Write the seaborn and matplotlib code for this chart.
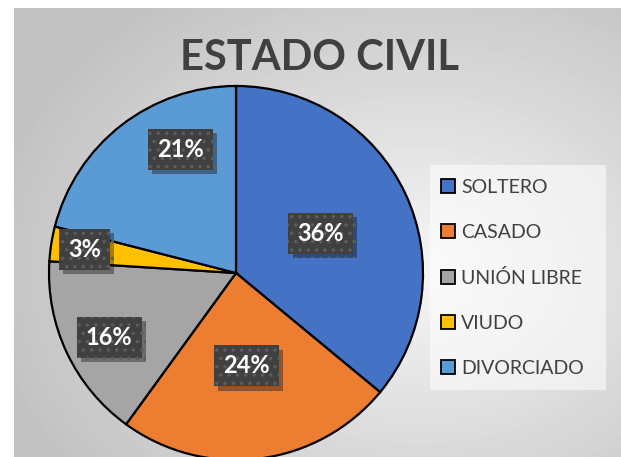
import numpy as np
import matplotlib
matplotlib.use("Agg")
import matplotlib.pyplot as plt
import matplotlib.patheffects as pe
from matplotlib.patches import Patch, Rectangle
import seaborn as sns

categories = ["SOLTERO", "CASADO", "UNIÓN LIBRE", "VIUDO", "DIVORCIADO"]
values = [36, 24, 16, 3, 21]
colors = ["#4472C4", "#ED7D31", "#A5A5A5", "#FFC000", "#5B9BD5"]
title = "ESTADO CIVIL"
label_dist = [0.50, 0.50, 0.76, 0.82, 0.725]
label_frac = [0.50, 0.49, 0.53, 0.52, 0.32]

sns.set_theme(style="white")
plt.rcParams["font.family"] = ["Lato", "DejaVu Sans"]
plt.rcParams["hatch.linewidth"] = 1.3

W, H = 621, 457
fig = plt.figure(figsize=(W / 100, H / 100), dpi=100)
fig.patch.set_facecolor("white")

# background radial gradient (chart area)
x0, y0 = 14, 8
bg = fig.add_axes([x0 / W, 0, 1 - x0 / W, 1 - y0 / H])
gw, gh = W - x0, H - y0
yy, xx = np.mgrid[0:gh, 0:gw]
cx, cy = 420 - x0, 270 - y0
d = np.sqrt(((xx - cx) / 430.0) ** 2 + ((yy - cy) / 330.0) ** 2)
g = np.clip(0.965 - 0.20 * d, 0.76, 1.0)
bg.imshow(g, cmap="gray", vmin=0, vmax=1, aspect="auto", interpolation="bilinear")
bg.set_axis_off()

# pie
cxp, cyp, r = 236, 273, 187
ax = fig.add_axes([(cxp - r) / W, (H - cyp - r) / H, 2 * r / W, 2 * r / H])
ax.set_facecolor("none")
wedges, _ = ax.pie(values, colors=colors, startangle=90, counterclock=False,
                   wedgeprops=dict(edgecolor="black", linewidth=1.6),
                   radius=1.0)
ax.set_xlim(-1, 1)
ax.set_ylim(-1, 1)
ax.set_aspect("auto")
ax.set_axis_off()

total = sum(values)
for w, v, dist, fr in zip(wedges, values, label_dist, label_frac):
    ang = np.deg2rad(w.theta1 + fr * (w.theta2 - w.theta1))
    t = ax.text(dist * np.cos(ang), dist * np.sin(ang), f"{round(100 * v / total)}%",
                ha="center", va="center", color="white", fontsize=17, fontweight="bold",
                bbox=dict(boxstyle="square,pad=0.38", facecolor="#404040",
                          edgecolor="#5c5c5c", linewidth=0, hatch=".."))
    t.get_bbox_patch().set_path_effects([
        pe.SimplePatchShadow(offset=(3, -3), shadow_rgbFace="black", alpha=0.35),
        pe.Normal()])

fig.text(320 / W, 1 - 58 / H, title, ha="center", va="center", fontsize=30,
         fontweight="bold", color="#404040")

# legend background box
fig.patches.append(Rectangle((430 / W, 1 - 390 / H), 176 / W, 225 / H,
                             transform=fig.transFigure, facecolor="white",
                             alpha=0.55, edgecolor="none", zorder=1))

handles = [Patch(facecolor=c, edgecolor="black", linewidth=1.3) for c in colors]
leg = fig.legend(handles, categories, loc="upper left",
                 bbox_to_anchor=(441 / W, 1 - 179 / H),
                 frameon=False, fontsize=14, labelcolor="#404040",
                 handlelength=0.7, handleheight=0.7, handletextpad=0.35,
                 labelspacing=1.44, borderpad=0, borderaxespad=0)

fig.savefig("out.png", dpi=100)
